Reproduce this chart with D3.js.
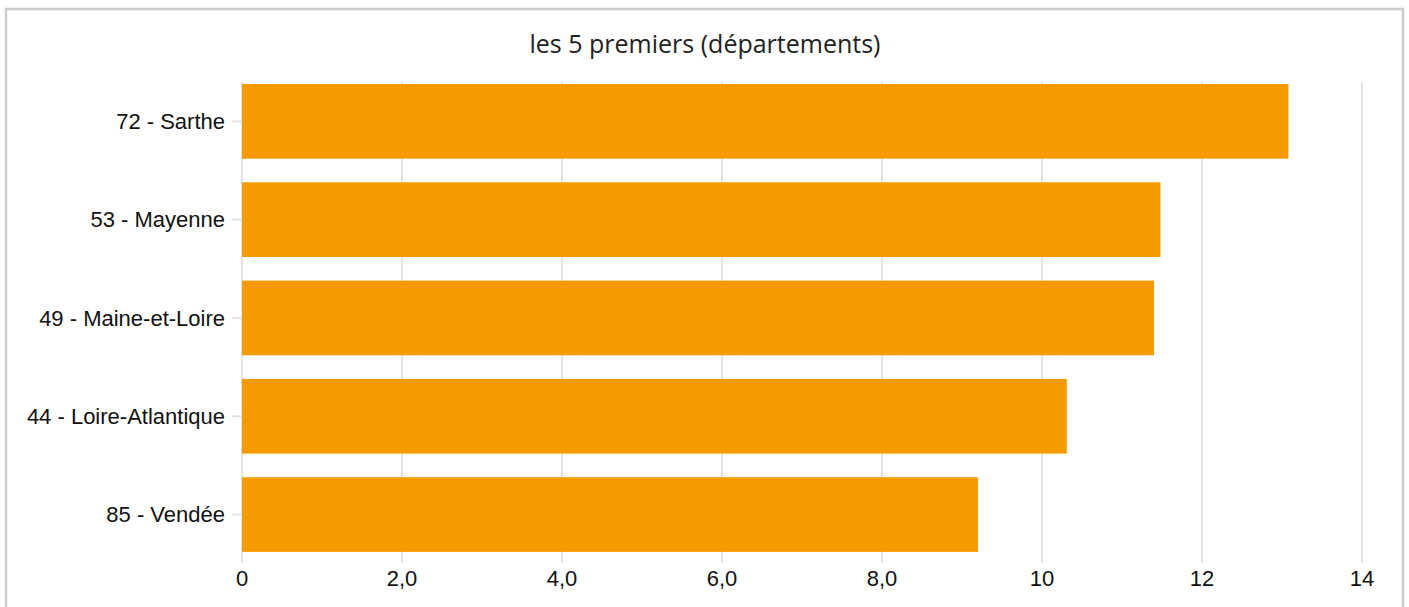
<!DOCTYPE html>
<html><head><meta charset="utf-8">
<script src="https://cdn.jsdelivr.net/npm/d3@7"></script>
<style>
html,body{margin:0;padding:0;background:#fff;}
svg{display:block;}
</style></head>
<body>
<svg id="chart" width="1409" height="607"></svg>
<script>
const categories = ["72 - Sarthe","53 - Mayenne","49 - Maine-et-Loire","44 - Loire-Atlantique","85 - Vendée"];
const values = [13.08, 11.48, 11.4, 10.31, 9.2];
const xTicks = [0,2,4,6,8,10,12,14];
const xTickLabels = ["0","2,0","4,0","6,0","8,0","10","12","14"];
const title = "les 5 premiers (départements)";

const svg = d3.select("#chart");
svg.append("rect").attr("x",6).attr("y",9).attr("width",1397).attr("height",610)
  .attr("fill","#fff").attr("stroke","#cccccc").attr("stroke-width",2.5);

const x = d3.scaleLinear().domain([0,14]).range([242,1362]);
const y = d3.scaleBand().domain(categories).range([72.2,563.7]).paddingInner(0.24).paddingOuter(0.12);

svg.append("text").attr("x",705).attr("y",53).attr("text-anchor","middle")
  .attr("font-family","Open Sans, Noto Sans, sans-serif").attr("font-size",25).attr("fill","#222")
  .text(title);

// gridlines
svg.append("g").selectAll("line").data(xTicks).join("line")
  .attr("x1",d=>x(d)).attr("x2",d=>x(d)).attr("y1",82).attr("y2",563)
  .attr("stroke","#e3e3e3").attr("stroke-width",2);

// y ticks
svg.append("g").selectAll("line").data(categories).join("line")
  .attr("x1",232).attr("x2",242).attr("y1",d=>y(d)+y.bandwidth()/2).attr("y2",d=>y(d)+y.bandwidth()/2)
  .attr("stroke","#e3e3e3").attr("stroke-width",2);

// bars
svg.append("g").selectAll("rect").data(values).join("rect")
  .attr("x",x(0)).attr("y",(d,i)=>y(categories[i])).attr("height",y.bandwidth())
  .attr("width",d=>x(d)-x(0)).attr("fill","#f59b00");

// y labels
svg.append("g").selectAll("text").data(categories).join("text")
  .attr("x",225).attr("y",d=>y(d)+y.bandwidth()/2).attr("dy","0.35em")
  .attr("text-anchor","end").attr("font-family","Liberation Sans, Arial, sans-serif")
  .attr("font-size",22).attr("fill","#111").text(d=>d);

// x labels
svg.append("g").selectAll("text").data(xTicks).join("text")
  .attr("x",d=>x(d)).attr("y",578).attr("dy","0.35em")
  .attr("text-anchor","middle").attr("font-family","Liberation Sans, Arial, sans-serif")
  .attr("font-size",22).attr("fill","#111").text((d,i)=>xTickLabels[i]);
</script>
</body></html>
